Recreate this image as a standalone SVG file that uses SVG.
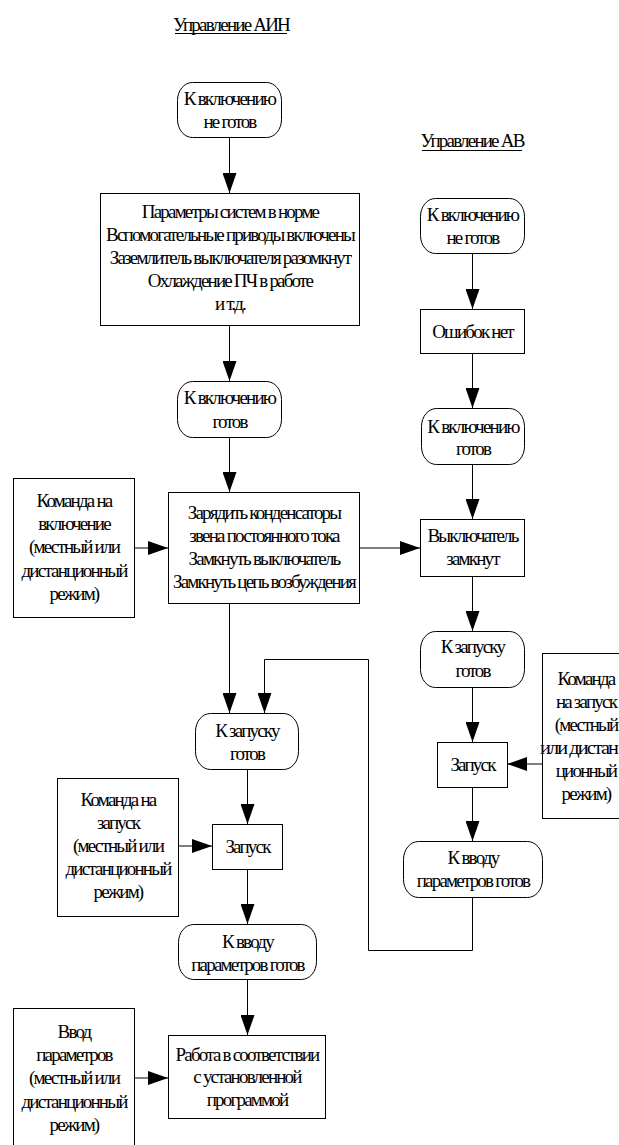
<svg xmlns="http://www.w3.org/2000/svg" width="619" height="1145" viewBox="0 0 619 1145">
<style>
  text { font-family: "Liberation Serif", "Times New Roman", serif; font-size: 19px; letter-spacing: -1.8px; fill: #000; text-anchor: middle; }
  .box { fill: #fff; stroke: #000; stroke-width: 1; }
  .conn { fill: none; stroke: #000; stroke-width: 1; }
</style>
<defs>
  <marker id="arr" markerUnits="userSpaceOnUse" markerWidth="20" markerHeight="14" refX="20" refY="7" orient="auto">
    <path d="M0,0 L20,7 L0,14 z" fill="#000"/>
  </marker>
</defs>
<rect width="619" height="1145" fill="#fff"/>

<g id="title-ain">
  <text x="231" y="31">Управление АИН</text>
  <line x1="175" y1="33.5" x2="287" y2="33.5" stroke="#000" stroke-width="1"/>
</g>
<g id="title-av">
  <text x="472" y="147">Управление АВ</text>
  <line x1="422" y1="150.5" x2="522" y2="150.5" stroke="#000" stroke-width="1"/>
</g>

<g id="connectors">
  <line class="conn" x1="229.5" y1="137" x2="229.5" y2="193" marker-end="url(#arr)"/>
  <line class="conn" x1="229.5" y1="325" x2="229.5" y2="381" marker-end="url(#arr)"/>
  <line class="conn" x1="229.5" y1="437" x2="229.5" y2="492" marker-end="url(#arr)"/>
  <line class="conn" x1="134" y1="548" x2="168" y2="548" marker-end="url(#arr)"/>
  <line class="conn" x1="359" y1="548" x2="420" y2="548" marker-end="url(#arr)"/>
  <line class="conn" x1="229.5" y1="603" x2="229.5" y2="713" marker-end="url(#arr)"/>
  <line class="conn" x1="247.5" y1="769" x2="247.5" y2="824" marker-end="url(#arr)"/>
  <line class="conn" x1="178" y1="846" x2="212" y2="846" marker-end="url(#arr)"/>
  <line class="conn" x1="247.5" y1="869" x2="247.5" y2="924" marker-end="url(#arr)"/>
  <line class="conn" x1="247.5" y1="979" x2="247.5" y2="1035" marker-end="url(#arr)"/>
  <line class="conn" x1="134" y1="1078" x2="168" y2="1078" marker-end="url(#arr)"/>
  <line class="conn" x1="472.5" y1="253" x2="472.5" y2="309" marker-end="url(#arr)"/>
  <line class="conn" x1="472.5" y1="353" x2="472.5" y2="408" marker-end="url(#arr)"/>
  <line class="conn" x1="472.5" y1="464" x2="472.5" y2="519" marker-end="url(#arr)"/>
  <line class="conn" x1="472.5" y1="576" x2="472.5" y2="631" marker-end="url(#arr)"/>
  <line class="conn" x1="472.5" y1="687" x2="472.5" y2="742" marker-end="url(#arr)"/>
  <line class="conn" x1="542" y1="764" x2="507" y2="764" marker-end="url(#arr)"/>
  <line class="conn" x1="472.5" y1="787" x2="472.5" y2="841" marker-end="url(#arr)"/>
  <polyline class="conn" points="472.5,897 472.5,950.5 368.5,950.5 368.5,659.5 264.5,659.5 264.5,713" marker-end="url(#arr)"/>
</g>

<g id="n-ain-notready">
  <rect class="box" x="177.5" y="82.5" width="104" height="55" rx="15" ry="18"/>
  <text x="229.5" y="105">К включению</text>
  <text x="229.5" y="128">не готов</text>
</g>
<g id="n-ain-params">
  <rect class="box" x="100.5" y="193.5" width="259" height="132"/>
  <text x="230" y="218">Параметры систем в норме</text>
  <text x="230" y="241">Вспомогательные приводы включены</text>
  <text x="230" y="264">Заземлитель выключателя разомкнут</text>
  <text x="230" y="287">Охлаждение ПЧ в работе</text>
  <text x="230" y="310">и т.д.</text>
</g>
<g id="n-ain-ready">
  <rect class="box" x="177.5" y="381.5" width="104" height="56" rx="15" ry="18"/>
  <text x="229.5" y="404">К включению</text>
  <text x="229.5" y="428">готов</text>
</g>
<g id="n-ain-charge">
  <rect class="box" x="168.5" y="492.5" width="191" height="111"/>
  <text x="264" y="519">Зарядить конденсаторы</text>
  <text x="264" y="542">звена постоянного тока</text>
  <text x="264" y="565">Замкнуть выключатель</text>
  <text x="264" y="588">Замкнуть цепь возбуждения</text>
</g>
<g id="n-cmd-on">
  <rect class="box" x="13.5" y="478.5" width="121" height="139"/>
  <text x="74" y="507">Команда на</text>
  <text x="74" y="530">включение</text>
  <text x="74" y="553">(местный или</text>
  <text x="74" y="577">дистанционный</text>
  <text x="74" y="600">режим)</text>
</g>
<g id="n-ain-startready">
  <rect class="box" x="195.5" y="713.5" width="103" height="56" rx="15" ry="18"/>
  <text x="247" y="737">К запуску</text>
  <text x="247" y="760">готов</text>
</g>
<g id="n-ain-start">
  <rect class="box" x="212.5" y="824.5" width="70" height="45"/>
  <text x="247.5" y="853">Запуск</text>
</g>
<g id="n-cmd-start-ain">
  <rect class="box" x="57.5" y="778.5" width="121" height="138"/>
  <text x="118" y="806">Команда на</text>
  <text x="118" y="829">запуск</text>
  <text x="118" y="852">(местный или</text>
  <text x="118" y="875">дистанционный</text>
  <text x="118" y="898">режим)</text>
</g>
<g id="n-ain-inputready">
  <rect class="box" x="178.5" y="924.5" width="138" height="55" rx="15" ry="18"/>
  <text x="247.5" y="948">К вводу</text>
  <text x="247.5" y="971">параметров готов</text>
</g>
<g id="n-ain-work">
  <rect class="box" x="168.5" y="1035.5" width="157" height="83"/>
  <text x="247" y="1061">Работа в соответствии</text>
  <text x="247" y="1083">с установленной</text>
  <text x="247" y="1106">программой</text>
</g>
<g id="n-cmd-input">
  <rect class="box" x="13.5" y="1008.5" width="121" height="150"/>
  <text x="74" y="1038">Ввод</text>
  <text x="74" y="1061">параметров</text>
  <text x="74" y="1084">(местный или</text>
  <text x="74" y="1108">дистанционный</text>
  <text x="74" y="1131">режим)</text>
</g>

<g id="n-av-notready">
  <rect class="box" x="420.5" y="198.5" width="104" height="55" rx="15" ry="18"/>
  <text x="472.5" y="221">К включению</text>
  <text x="472.5" y="244">не готов</text>
</g>
<g id="n-av-noerr">
  <rect class="box" x="420.5" y="309.5" width="104" height="44"/>
  <text x="472.5" y="338">Ошибок нет</text>
</g>
<g id="n-av-ready">
  <rect class="box" x="421.5" y="408.5" width="103" height="56" rx="15" ry="18"/>
  <text x="473" y="433">К включению</text>
  <text x="473" y="455">готов</text>
</g>
<g id="n-av-closed">
  <rect class="box" x="420.5" y="519.5" width="104" height="57"/>
  <text x="472.5" y="542">Выключатель</text>
  <text x="472.5" y="565">замкнут</text>
</g>
<g id="n-av-startready">
  <rect class="box" x="420.5" y="631.5" width="104" height="56" rx="15" ry="18"/>
  <text x="472.5" y="653">К запуску</text>
  <text x="472.5" y="677">готов</text>
</g>
<g id="n-av-start">
  <rect class="box" x="437.5" y="742.5" width="70" height="45"/>
  <text x="472.5" y="771">Запуск</text>
</g>
<g id="n-cmd-start-av">
  <rect class="box" x="542.5" y="653.5" width="90" height="165"/>
  <text x="586" y="685">Команда</text>
  <text x="586" y="708">на запуск</text>
  <text x="586" y="731">(местный</text>
  <text x="540" y="754" style="text-anchor:start" textLength="77" lengthAdjust="spacingAndGlyphs">или дистан</text>
  <text x="586" y="777">ционный</text>
  <text x="586" y="800">режим)</text>
</g>
<g id="n-av-inputready">
  <rect class="box" x="403.5" y="841.5" width="139" height="56" rx="15" ry="18"/>
  <text x="473" y="864">К вводу</text>
  <text x="473" y="887">параметров готов</text>
</g>
</svg>
